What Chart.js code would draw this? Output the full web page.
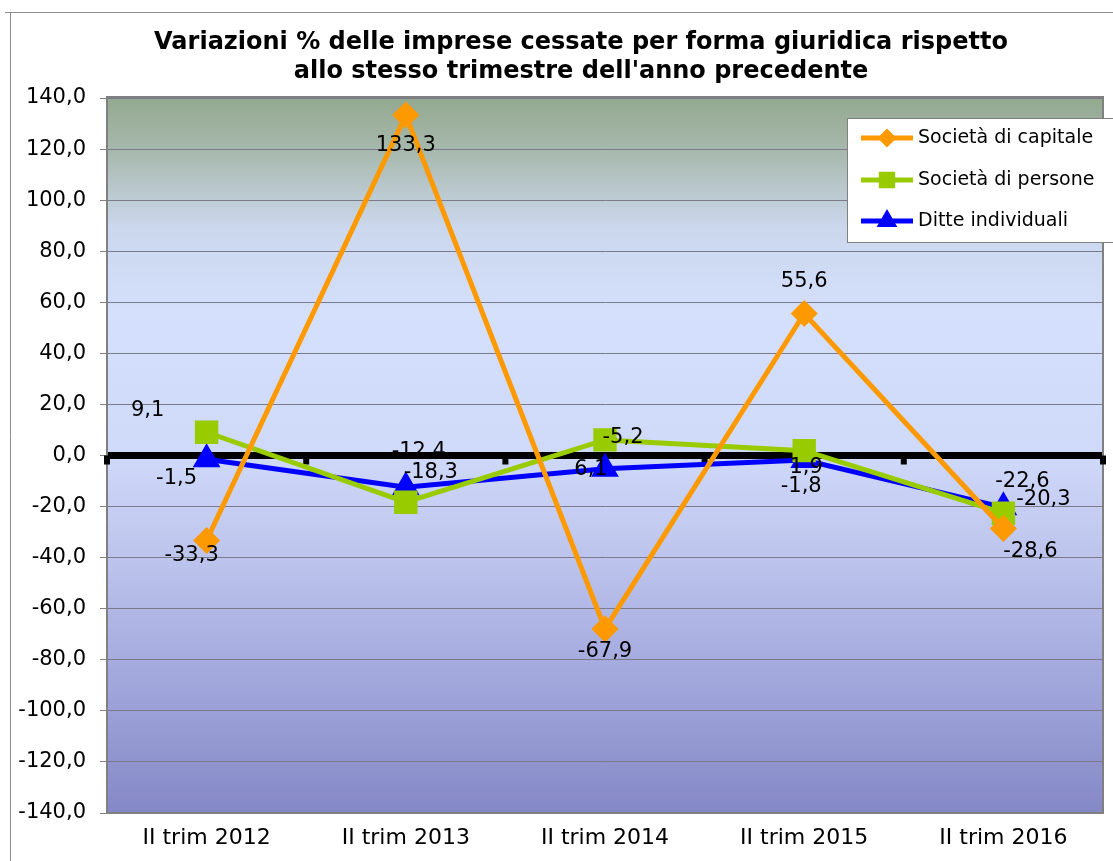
<!DOCTYPE html>
<html>
<head>
<meta charset="utf-8">
<script src="https://cdn.jsdelivr.net/npm/chart.js@4.4.1/dist/chart.umd.min.js"></script>
<style>
  html, body { margin: 0; padding: 0; background: #fff; }
  #wrap { width: 1113px; height: 861px; position: relative; }
</style>
</head>
<body>
<div id="wrap"><canvas id="myChart" width="1113" height="861"></canvas></div>
<script>
const categories = ['II trim 2012', 'II trim 2013', 'II trim 2014', 'II trim 2015', 'II trim 2016'];
const seriesNames = ['Società di capitale', 'Società di persone', 'Ditte individuali'];
const capitale = [-33.3, 133.3, -67.9, 55.6, -28.6];
const persone = [9.1, -18.3, 6.1, 1.9, -22.6];
const ditte = [-1.5, -12.4, -5.2, -1.8, -20.3];
const yTicks = [140, 120, 100, 80, 60, 40, 20, 0, -20, -40, -60, -80, -100, -120, -140];
const titleLines = ['Variazioni % delle imprese cessate per forma giuridica rispetto',
                    "allo stesso trimestre dell'anno precedente"];

// where each data label sits relative to its point (as in the original)
const labelOffsets = [
  [[-15, 15], [0, 30], [0, 23], [0, -32], [27, 23]],
  [[-59, -22], [25, -30], [-14, 30], [2, 17], [19, -32]],
  [[-30, 19], [13, -36], [18, -31], [-3, 26], [40, -8]]
];

const fmt = v => v.toFixed(1).replace('.', ',');
const FONT = '"DejaVu Sans", Verdana, sans-serif';

const bgPlugin = {
  id: 'bg',
  beforeDraw(chart) {
    const { ctx, chartArea: a } = chart;
    ctx.save();
    // outer frame
    ctx.strokeStyle = '#8c8c8c';
    ctx.lineWidth = 1;
    ctx.beginPath();
    ctx.moveTo(5, 12.5); ctx.lineTo(1113, 12.5);
    ctx.moveTo(10.5, 12); ctx.lineTo(10.5, 861);
    ctx.stroke();
    // plot gradient
    const g = ctx.createLinearGradient(0, a.top, 0, a.bottom);
    g.addColorStop(0, '#93a98f');
    g.addColorStop(0.08, '#a9bab0');
    g.addColorStop(0.18, '#cbd7ec');
    g.addColorStop(0.3, '#d4e0fc');
    g.addColorStop(0.5, '#cfd9f9');
    g.addColorStop(0.65, '#bcc3ec');
    g.addColorStop(0.82, '#a1a6db');
    g.addColorStop(1, '#8588c6');
    ctx.fillStyle = g;
    ctx.fillRect(a.left, a.top, a.right - a.left, a.bottom - a.top);
    // title
    ctx.fillStyle = '#000';
    ctx.font = 'bold 24px ' + FONT;
    ctx.textAlign = 'center';
    ctx.textBaseline = 'middle';
    ctx.fillText(titleLines[0], 581, 43);
    ctx.fillText(titleLines[1], 581, 72);
    ctx.restore();
  },
  beforeDatasetsDraw(chart) {
    const { ctx, chartArea: a, scales } = chart;
    const y0 = scales.y.getPixelForValue(0);
    ctx.save();
    ctx.strokeStyle = '#808080';
    ctx.lineWidth = 2;
    ctx.strokeRect(a.left, a.top - 1, a.right - a.left, a.bottom - a.top + 1);
    // tick marks on the zero line
    ctx.fillStyle = '#000';
    const step = (a.right - a.left) / categories.length;
    for (let i = 0; i <= categories.length; i++) {
      const x = a.left + i * step;
      ctx.fillRect(x - 3, y0, 6, 9);
    }
    ctx.restore();
  },
  afterDatasetsDraw(chart) {
    const { ctx } = chart;
    ctx.save();
    ctx.fillStyle = '#000';
    ctx.font = '21px ' + FONT;
    ctx.textAlign = 'center';
    ctx.textBaseline = 'middle';
    chart.data.datasets.forEach((ds, di) => {
      const meta = chart.getDatasetMeta(di);
      meta.data.forEach((pt, i) => {
        const off = labelOffsets[di][i];
        ctx.fillText(fmt(ds.data[i]), pt.x + off[0], pt.y + off[1]);
      });
    });
    ctx.restore();
  },
  afterDraw(chart) {
    const { ctx } = chart;
    ctx.save();
    ctx.fillStyle = '#fff';
    ctx.fillRect(847, 118, 266, 124);
    ctx.strokeStyle = '#808080';
    ctx.lineWidth = 1;
    ctx.strokeRect(847.5, 118.5, 266, 124);
    ctx.font = '19px ' + FONT;
    ctx.textBaseline = 'middle';
    ctx.textAlign = 'left';
    const rows = [138, 180, 221];
    chart.data.datasets.forEach((ds, i) => {
      const y = rows[i];
      ctx.strokeStyle = ds.borderColor;
      ctx.lineWidth = 5;
      ctx.beginPath();
      ctx.moveTo(861, y); ctx.lineTo(913, y);
      ctx.stroke();
      ctx.fillStyle = ds.borderColor;
      ctx.strokeStyle = ds.borderColor;
      Chart.helpers.drawPoint(ctx, { pointStyle: ds.pointStyle, rotation: 0, radius: ds.legendRadius, borderWidth: 1 }, 887, y);
      ctx.fillStyle = '#000';
      ctx.fillText(ds.label, 918, y);
    });
    ctx.restore();
  }
};

new Chart(document.getElementById('myChart'), {
  type: 'line',
  data: {
    labels: categories,
    datasets: [{
      label: seriesNames[0],
      data: capitale,
      borderColor: '#ff9900',
      backgroundColor: '#ff9900',
      borderWidth: 5,
      pointStyle: 'rectRot',
      pointRadius: 10,
      legendRadius: 6,
      tension: 0
    }, {
      label: seriesNames[1],
      data: persone,
      borderColor: '#99cc00',
      backgroundColor: '#99cc00',
      borderWidth: 5,
      pointStyle: 'rect',
      pointRadius: 13,
      legendRadius: 8,
      tension: 0
    }, {
      label: seriesNames[2],
      data: ditte,
      borderColor: '#0000ff',
      backgroundColor: '#0000ff',
      borderWidth: 5,
      pointStyle: 'triangle',
      pointRadius: 11,
      legendRadius: 7,
      tension: 0
    }]
  },
  options: {
    responsive: false,
    animation: false,
    layout: { autoPadding: false, padding: { left: 10, right: 10, top: 98, bottom: 0 } },
    plugins: {
      legend: { display: false },
      title: { display: false },
      tooltip: { enabled: false }
    },
    scales: {
      x: {
        offset: true,
        grid: { display: false, drawTicks: false },
        border: { display: false },
        ticks: { color: '#000', font: { family: FONT, size: 22 }, padding: 12, maxRotation: 0 },
        afterFit(scale) {
          scale.height = 48;
          scale.paddingLeft = 0;
          scale.paddingRight = 0;
        }
      },
      y: {
        min: -140,
        max: 140,
        afterBuildTicks(scale) { scale.ticks = yTicks.map(v => ({ value: v })); },
        grid: {
          color: ctx => ctx.tick && ctx.tick.value === 0 ? '#000' : '#7a7a8a',
          lineWidth: ctx => ctx.tick && ctx.tick.value === 0 ? 7 : 1,
          tickColor: '#808080',
          tickLength: 7,
          tickWidth: 1
        },
        border: { display: true, color: '#808080', width: 1 },
        ticks: {
          color: '#000',
          font: { family: FONT, size: 21 },
          padding: 14,
          callback: v => fmt(v)
        },
        afterFit(scale) { scale.width = 97; }
      }
    }
  },
  plugins: [bgPlugin]
});
</script>
</body>
</html>
